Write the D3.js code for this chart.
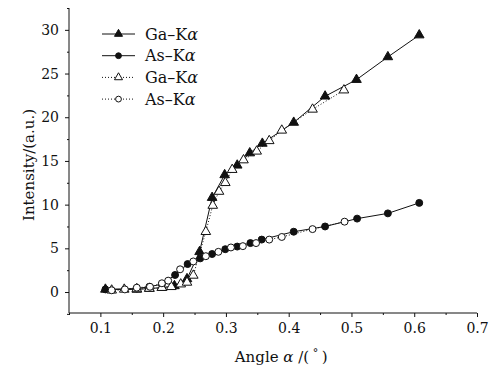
<!DOCTYPE html>
<html>
<head>
<meta charset="utf-8">
<script src="https://cdn.jsdelivr.net/npm/d3@7"></script>
<style>
  body { margin: 0; background: #fff; }
  text { font-family: "DejaVu Serif", serif; fill: #111; }
</style>
</head>
<body>
<div id="chart"></div>
<script>
// data
const gaFilledX = [0.108, 0.158, 0.178, 0.198, 0.218, 0.238, 0.258, 0.278, 0.298, 0.318, 0.338, 0.358, 0.408, 0.458, 0.508, 0.558, 0.608];
const gaFilledY = [0.3, 0.3, 0.4, 0.5, 0.7, 1.5, 4.6, 10.8, 13.4, 14.5, 15.9, 17.0, 19.4, 22.4, 24.3, 26.9, 29.4];

const asFilledX = [0.108, 0.158, 0.178, 0.198, 0.219, 0.239, 0.259, 0.278, 0.299, 0.318, 0.339, 0.357, 0.408, 0.458, 0.509, 0.558, 0.608];
const asFilledY = [0.3, 0.4, 0.6, 0.9, 1.95, 3.2, 3.85, 4.35, 4.9, 5.2, 5.6, 6.0, 6.9, 7.5, 8.4, 9.0, 10.2];

const gaOpenX = [0.118, 0.138, 0.158, 0.178, 0.198, 0.213, 0.228, 0.238, 0.248, 0.268, 0.279, 0.289, 0.299, 0.310, 0.328, 0.349, 0.369, 0.389, 0.438, 0.488];
const gaOpenY = [0.2, 0.3, 0.35, 0.4, 0.5, 0.6, 0.9, 1.1, 1.9, 6.9, 9.9, 11.5, 12.5, 14.0, 15.1, 16.1, 17.3, 18.5, 20.9, 23.1];

const asOpenX = [0.118, 0.139, 0.158, 0.179, 0.198, 0.208, 0.227, 0.248, 0.268, 0.288, 0.308, 0.327, 0.348, 0.369, 0.389, 0.438, 0.489];
const asOpenY = [0.2, 0.3, 0.5, 0.6, 1.0, 1.3, 2.6, 3.5, 4.1, 4.6, 5.1, 5.25, 5.6, 6.0, 6.3, 7.2, 8.05];

const xTicks = [0.1, 0.2, 0.3, 0.4, 0.5, 0.6, 0.7];
const yTicks = [0, 5, 10, 15, 20, 25, 30];
const legendLabels = ["Ga\u2013K", "As\u2013K", "Ga\u2013K", "As\u2013K"];

// layout
const width = 489, height = 370;
const margin = { top: 8, right: 12, bottom: 57, left: 69 };
const innerW = 477 - margin.left;
const innerH = 313 - margin.top;

const svg = d3.select("#chart").append("svg")
    .attr("width", width)
    .attr("height", height);

const g = svg.append("g")
    .attr("transform", `translate(${margin.left}, ${margin.top})`);

// scales
const x = d3.scaleLinear().domain([0.05, 0.7]).range([0, innerW]);
const y = d3.scaleLinear().domain([-2.4, 32.5]).range([innerH, 0]);

// axes
g.append("g")
    .attr("transform", `translate(0, ${innerH})`)
    .call(d3.axisBottom(x).tickValues(xTicks).tickSize(4).tickPadding(6).tickFormat(d3.format(".1f")));
g.append("g")
    .attr("transform", `translate(0, ${innerH})`)
    .call(d3.axisBottom(x).tickValues(d3.range(0.05, 0.70, 0.1)).tickSize(2).tickFormat(""))
    .select(".domain").remove();

g.append("g")
    .call(d3.axisLeft(y).tickValues(yTicks).tickSize(4).tickPadding(6));
g.append("g")
    .call(d3.axisLeft(y).tickValues(d3.range(-2.5, 32.6, 5)).tickSize(2).tickFormat(""))
    .select(".domain").remove();

svg.selectAll(".tick text").style("font-size", "14px").style("font-family", "DejaVu Serif, serif");
svg.selectAll(".domain, .tick line").attr("stroke", "#111");
svg.selectAll(".domain").attr("d", function () {
    return d3.select(this.parentNode).attr("transform") ? `M0,0H${innerW}` : `M0,0V${innerH}`;
});

// axis labels
const xt = g.append("text")
    .attr("text-anchor", "middle")
    .attr("x", x(0.388))
    .attr("y", innerH + 49)
    .style("font-size", "15px");
xt.append("tspan").text("Angle ");
xt.append("tspan").style("font-style", "italic").text("\u03b1");
xt.append("tspan").text(" /(");
xt.append("tspan").attr("dy", -5).style("font-size", "11px").text(" \u00b0 ");
xt.append("tspan").attr("dy", 5).text(")");

g.append("text")
    .attr("text-anchor", "middle")
    .attr("transform", "rotate(-90)")
    .attr("x", -(165 - margin.top))
    .attr("y", -margin.left + 34)
    .style("font-size", "15px")
    .text("Intensity/(a.u.)");

// series
const series = [
    { xs: gaFilledX, ys: gaFilledY, shape: d3.symbolTriangle, fill: "#111", dash: null, size: 40 },
    { xs: asFilledX, ys: asFilledY, shape: d3.symbolCircle, fill: "#111", dash: null, size: 38 },
    { xs: gaOpenX, ys: gaOpenY, shape: d3.symbolTriangle, fill: "#fff", dash: "1,2", size: 40 },
    { xs: asOpenX, ys: asOpenY, shape: d3.symbolCircle, fill: "#fff", dash: "1,2", size: 38 }
];

const line = d3.line().x(d => x(d[0])).y(d => y(d[1]));

series.forEach(s => {
    const pts = s.xs.map((v, i) => [v, s.ys[i]]);
    g.append("path")
        .datum(pts)
        .attr("fill", "none")
        .attr("stroke", "#111")
        .attr("stroke-width", 1)
        .attr("stroke-dasharray", s.dash)
        .attr("d", line);
});

series.forEach(s => {
    const pts = s.xs.map((v, i) => [v, s.ys[i]]);
    g.selectAll(null)
        .data(pts)
        .enter()
        .append("path")
        .attr("transform", d => `translate(${x(d[0])}, ${y(d[1])})`)
        .attr("d", d3.symbol().type(s.shape).size(s.size))
        .attr("fill", s.fill)
        .attr("stroke", "#111")
        .attr("stroke-width", 1);
});

// legend
const legend = svg.append("g").attr("transform", "translate(102, 34)");
series.forEach((s, i) => {
    const row = legend.append("g").attr("transform", `translate(0, ${i * 21.7})`);
    row.append("line")
        .attr("x1", 0).attr("x2", 33)
        .attr("stroke", "#111")
        .attr("stroke-dasharray", s.dash);
    row.append("path")
        .attr("transform", "translate(16.5, 0)")
        .attr("d", d3.symbol().type(s.shape).size(s.size * 0.7))
        .attr("fill", s.fill)
        .attr("stroke", "#111");
    const t = row.append("text")
        .attr("x", 43)
        .attr("y", 5.5)
        .style("font-size", "16px");
    t.append("tspan").text(legendLabels[i]);
    t.append("tspan").style("font-style", "italic").text("\u03b1");
});
</script>
</body>
</html>
